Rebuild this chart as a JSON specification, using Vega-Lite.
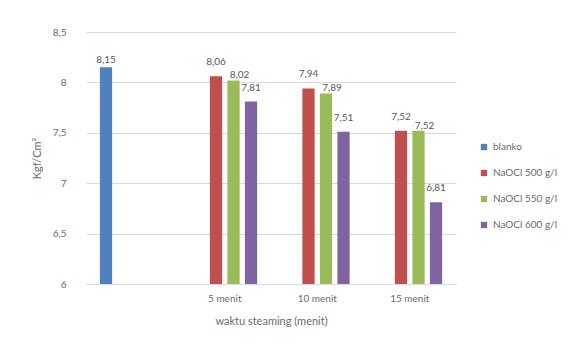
{
  "$schema": "https://vega.github.io/schema/vega-lite/v6.json",
  "width": 370,
  "height": 252,
  "padding": {"left": 31, "top": 27, "right": 5, "bottom": 5},
  "background": "white",
  "config": {
    "font": "Lato",
    "view": {"stroke": null},
    "axis": {"labelColor": "#6b6b6b", "titleColor": "#6b6b6b", "labelFont": "Lato", "titleFont": "Lato"},
    "legend": {"labelColor": "#6b6b6b", "labelFont": "Lato"}
  },
  "data": {
    "values": [
      {"waktu": " ", "seri": "blanko", "nilai": 8.15},
      {"waktu": "5 menit", "seri": "NaOCl 500 g/l", "nilai": 8.06},
      {"waktu": "5 menit", "seri": "NaOCl 550 g/l", "nilai": 8.02},
      {"waktu": "5 menit", "seri": "NaOCl 600 g/l", "nilai": 7.81},
      {"waktu": "10 menit", "seri": "NaOCl 500 g/l", "nilai": 7.94},
      {"waktu": "10 menit", "seri": "NaOCl 550 g/l", "nilai": 7.89},
      {"waktu": "10 menit", "seri": "NaOCl 600 g/l", "nilai": 7.51},
      {"waktu": "15 menit", "seri": "NaOCl 500 g/l", "nilai": 7.52},
      {"waktu": "15 menit", "seri": "NaOCl 550 g/l", "nilai": 7.52},
      {"waktu": "15 menit", "seri": "NaOCl 600 g/l", "nilai": 6.81}
    ]
  },
  "transform": [
    {"calculate": "replace(format(datum.nilai, '.2f'), '.', ',')", "as": "label"}
  ],
  "encoding": {
    "x": {
      "field": "waktu",
      "type": "nominal",
      "sort": [" ", "5 menit", "10 menit", "15 menit"],
      "scale": {"paddingInner": 0.3, "paddingOuter": 0.15},
      "axis": {
        "title": "waktu steaming (menit)",
        "labelAngle": 0,
        "labelFontSize": 10,
        "titleFontSize": 11,
        "titleFontWeight": "normal",
        "ticks": false,
        "labelPadding": 9,
        "titlePadding": 12,
        "domainColor": "#d9d9d9"
      }
    },
    "xOffset": {
      "field": "seri",
      "type": "nominal",
      "sort": ["blanko", "NaOCl 500 g/l", "NaOCl 550 g/l", "NaOCl 600 g/l"],
      "scale": {"paddingInner": 0.3, "paddingOuter": 0}
    },
    "y": {
      "field": "nilai",
      "type": "quantitative",
      "scale": {"domain": [6, 8.5], "zero": false, "nice": false},
      "axis": {
        "title": "Kgf/Cm²",
        "values": [6, 6.5, 7, 7.5, 8, 8.5],
        "labelExpr": "replace(format(datum.value, '~g'), '.', ',')",
        "labelFontSize": 10,
        "titleFontSize": 11,
        "titleFontWeight": "normal",
        "ticks": false,
        "domain": false,
        "labelPadding": 20,
        "titlePadding": 10,
        "gridColor": "#d9d9d9"
      }
    }
  },
  "layer": [
    {
      "mark": {"type": "bar"},
      "encoding": {
        "y2": {"datum": 6},
        "color": {
          "field": "seri",
          "type": "nominal",
          "scale": {
            "domain": ["blanko", "NaOCl 500 g/l", "NaOCl 550 g/l", "NaOCl 600 g/l"],
            "range": ["#4F81BD", "#C0504D", "#9BBB59", "#8064A2"]
          },
          "legend": {
            "title": null,
            "orient": "none",
            "legendX": 393,
            "legendY": 110,
            "symbolType": "square",
            "symbolSize": 40,
            "labelFontSize": 10,
            "rowPadding": 16
          }
        }
      }
    },
    {
      "transform": [{"filter": "datum.seri === 'blanko'"}],
      "mark": {"type": "text", "dy": -7, "fontSize": 10, "color": "#595959"},
      "encoding": {"text": {"field": "label"}}
    },
    {
      "transform": [{"filter": "datum.seri === 'NaOCl 500 g/l' || datum.seri === 'NaOCl 600 g/l'"}],
      "mark": {"type": "text", "dy": -14, "fontSize": 10, "color": "#595959"},
      "encoding": {"text": {"field": "label"}}
    },
    {
      "transform": [{"filter": "datum.seri === 'NaOCl 550 g/l'"}],
      "mark": {"type": "text", "dx": 6, "dy": -5, "fontSize": 10, "color": "#595959"},
      "encoding": {"text": {"field": "label"}}
    }
  ]
}
